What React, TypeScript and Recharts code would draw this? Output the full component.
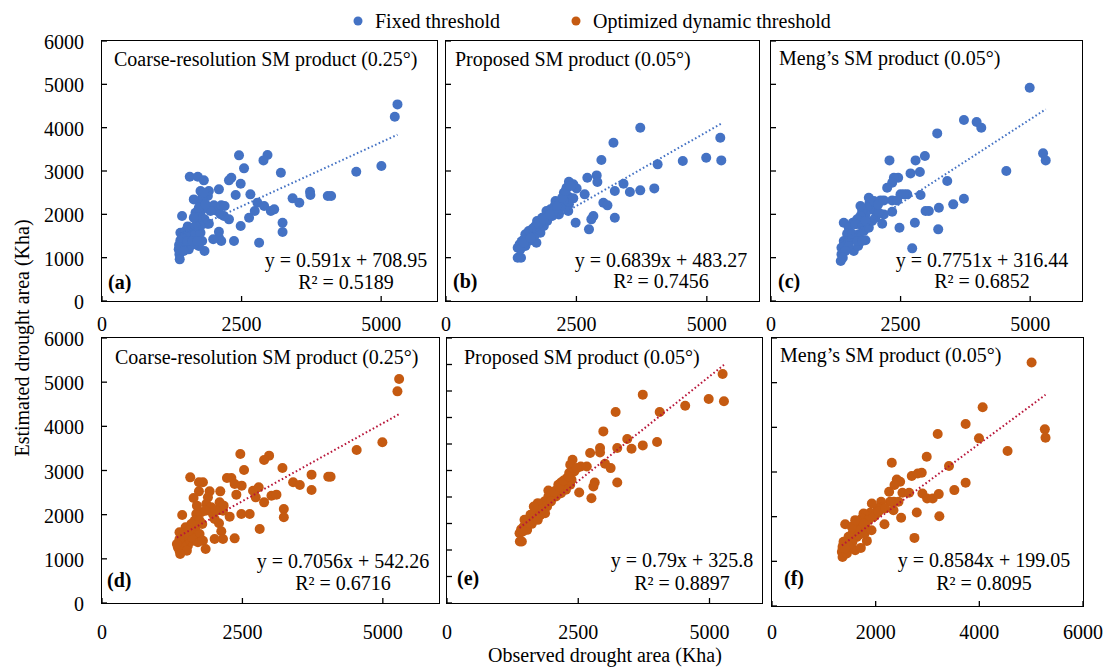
import { ScatterChart, Scatter, XAxis, YAxis } from 'recharts';

const FONT = '"Liberation Serif", "Times New Roman", serif';
const FIXED = '#4472C4';
const DYNAMIC = '#C55A11';
const DYN_TREND = '#B8163A';

// (a) coarse-resolution, fixed threshold
const aObs = [5292, 5244, 5004, 4554, 4044, 4104, 3726, 3732, 3414, 3534, 3204, 2964, 2892, 2544, 2454, 2484, 2316, 2274, 2394, 2658, 2784, 2904, 3024, 3084, 2736, 2634, 3234, 3234, 2814, 2484, 2364, 2274, 2184, 2094, 2004, 2064, 2136, 2196, 2124, 1944, 1914, 2094, 2094, 2136, 1992, 1914, 1764, 1896, 1794, 1644, 1572, 1716, 1824, 1764, 1794, 1674, 1764, 1836, 1884, 1704, 1434, 1404, 1494, 1536, 1614, 1584, 1674, 1764, 1794, 1836, 1734, 1644, 1554, 1464, 1404, 1380, 1374, 1386, 1392, 1464, 1494, 1434, 1524, 1614, 1704, 1764, 1674, 1644, 1734, 1854, 1824];
const aEst = [4537, 4253, 3114, 2984, 2422, 2422, 2522, 2445, 2369, 2269, 2961, 3368, 3245, 3061, 3361, 2707, 2845, 2784, 2445, 2461, 2269, 2192, 2076, 2115, 2076, 1923, 1807, 1592, 1346, 1730, 1384, 1884, 1961, 2576, 2207, 2076, 2207, 2192, 2000, 2076, 1784, 1600, 1461, 1384, 1423, 2538, 2538, 2422, 2384, 2345, 2868, 2868, 2784, 2230, 2115, 2038, 1984, 1884, 1784, 1846, 1961, 1576, 1615, 1722, 1676, 1500, 1553, 1576, 1384, 1153, 1269, 1307, 1192, 1346, 1400, 1292, 1192, 1077, 961, 1153, 1500, 1461, 1384, 1384, 1384, 1730, 1730, 1922, 2153, 2230, 2499];

// (b) proposed, fixed threshold
const bObs = [5258, 5277, 4988, 4539, 3724, 4057, 3993, 3724, 3525, 3403, 3236, 3210, 2979, 2889, 2902, 2709, 3017, 3095, 3236, 2825, 2786, 2741, 2485, 2658, 2504, 2440, 2356, 2311, 2260, 2356, 2440, 2356, 2260, 2343, 2196, 2099, 2080, 2003, 1926, 2163, 1939, 1843, 1810, 1746, 1714, 1650, 1618, 1810, 1733, 1554, 1502, 1457, 1412, 1374, 1374, 1438, 1521, 1586, 1650, 1714, 1778, 1875, 1939, 2035, 2067, 2131, 2228, 2292, 2388, 1521, 1586, 1682, 1778, 1875, 1990, 1425, 1489, 1618];
const bEst = [3768, 3245, 3307, 3230, 3999, 3153, 2599, 2553, 2515, 2707, 2538, 3653, 3253, 2899, 2745, 2845, 2269, 2207, 1923, 1961, 1884, 1653, 1807, 2461, 2599, 2692, 2753, 2615, 2499, 2399, 2369, 2230, 2307, 2076, 2153, 2307, 2192, 2115, 2076, 1999, 1961, 1923, 1807, 1846, 1730, 1653, 1576, 1576, 1346, 1500, 1423, 1384, 1307, 1230, 999, 999, 1269, 1384, 1461, 1538, 1653, 1730, 1846, 1961, 2076, 2192, 2384, 2538, 2653, 1538, 1615, 1692, 1784, 1884, 1999, 1192, 1346, 1461];

// (c) Meng's, fixed threshold
const cObs = [4991, 3722, 3967, 4057, 3207, 5249, 5300, 4540, 2969, 2789, 2286, 2692, 2872, 3400, 3722, 3516, 3239, 3046, 2982, 2885, 2628, 2499, 2454, 2370, 2338, 2241, 2338, 2338, 2776, 2479, 3226, 2724, 2145, 2177, 2112, 2016, 1951, 1900, 1855, 1823, 1758, 1726, 1662, 1578, 1404, 1500, 1629, 1758, 1823, 1597, 1681, 1468, 1404, 1359, 1359, 1346, 1404, 1488, 1565, 1629, 1694, 1790, 1887, 1951, 2016, 2080, 1823, 1726, 1887, 1984, 2067, 2177, 1500, 1436, 1385, 1565, 1662, 1758, 2434, 2563];
const cEst = [4922, 4176, 4130, 3999, 3868, 3407, 3245, 2999, 3345, 3245, 3245, 2945, 2976, 2768, 2361, 2230, 2153, 2076, 2076, 2445, 2461, 2461, 2845, 2845, 2730, 2615, 2322, 2061, 1807, 1692, 1653, 1215, 1784, 1999, 2322, 2192, 2115, 2269, 2153, 1999, 2076, 1961, 1884, 1807, 1807, 1692, 1769, 1730, 1400, 1153, 1269, 1553, 1384, 1230, 1077, 923, 1307, 1384, 1423, 1461, 1538, 1615, 1692, 1846, 1922, 2038, 1846, 2192, 2384, 2307, 2230, 2322, 1269, 1153, 999, 1553, 1384, 1384, 2322, 2461];

// (d) coarse-resolution, optimized dynamic threshold
const dObs = [5290, 5260, 4992, 4534, 4028, 4070, 3731, 3731, 3403, 3522, 3213, 2975, 2886, 2529, 2463, 2487, 2303, 2362, 2392, 2689, 2790, 2737, 2886, 3017, 3106, 3237, 3237, 2808, 2630, 2481, 2362, 2273, 2106, 2225, 2094, 2166, 2154, 2083, 2124, 2154, 2005, 1916, 1886, 1797, 1726, 1726, 1571, 1630, 1856, 1767, 1678, 1648, 1737, 1428, 1488, 1559, 1648, 1737, 1797, 1845, 1708, 1618, 1529, 1470, 1410, 1380, 1369, 1380, 1351, 1428, 1511, 1589, 1975, 2035, 2005, 1946, 1845, 1785, 1678, 1589, 1547, 1452, 1380, 1333, 1392, 1690];
const dEst = [5072, 4792, 3638, 3464, 2860, 2860, 2906, 2558, 2732, 2672, 3057, 3336, 3238, 3011, 3374, 2657, 2830, 2694, 2453, 2543, 2619, 2392, 2279, 2430, 2453, 2128, 1940, 1675, 2015, 2015, 1464, 1955, 2528, 2830, 2279, 2204, 2090, 1804, 1623, 1449, 1449, 2528, 2392, 2732, 2732, 2528, 2845, 2377, 2241, 2053, 2015, 1864, 1864, 1992, 1713, 1562, 1638, 1562, 1411, 1223, 1374, 1411, 1298, 1411, 1487, 1600, 1374, 1185, 1260, 1298, 1185, 1487, 2015, 2090, 1902, 2166, 2090, 1789, 1751, 1789, 1638, 1524, 1449, 1336, 1109, 2204];

// (e) proposed, optimized dynamic threshold
const eObs = [5250, 5275, 4985, 4537, 4051, 4001, 3729, 3729, 3515, 3433, 3243, 3212, 3243, 2978, 2915, 2915, 2726, 3010, 3117, 2814, 2789, 2751, 2518, 2663, 2549, 2391, 2347, 2423, 2328, 2284, 2372, 2347, 2284, 2265, 2171, 2120, 2171, 2095, 2076, 2013, 1931, 1931, 1855, 1906, 1824, 1868, 1760, 1729, 1678, 1666, 1590, 1552, 1508, 1464, 1413, 1382, 1388, 1426, 1527, 1615, 1697, 1779, 1792, 1634, 1571, 1476, 1729, 1445, 1653, 1981, 2044, 2139, 2221, 2316, 2474];
const eEst = [4322, 3805, 3849, 3723, 3604, 3037, 3931, 2974, 2911, 3093, 2923, 3604, 2274, 3238, 2923, 2841, 2829, 2627, 2545, 2274, 2199, 1978, 2085, 2577, 2577, 2703, 2608, 2482, 2451, 2356, 2325, 2230, 2243, 2136, 2274, 2230, 2073, 2136, 2010, 1997, 2123, 2010, 1915, 1821, 1821, 1695, 1821, 1884, 1770, 1695, 1663, 1581, 1518, 1443, 1392, 1317, 1159, 1159, 1380, 1493, 1581, 1663, 1758, 1600, 1506, 1569, 1569, 1348, 1821, 1915, 2104, 2199, 2312, 2388, 2545];

// (f) Meng's, optimized dynamic threshold
const fObs = [5008, 4064, 3736, 3197, 3993, 5264, 5277, 4545, 2985, 3415, 2311, 2696, 2812, 2889, 2408, 2472, 2363, 2260, 2517, 2645, 2902, 2992, 3101, 3217, 3518, 3736, 2350, 2440, 2279, 2343, 2793, 3229, 2491, 2748, 2170, 2106, 2131, 2042, 1926, 1990, 1894, 1830, 1766, 1733, 1669, 1618, 1553, 1412, 1477, 1380, 1361, 1348, 1361, 1444, 1605, 1714, 1830, 1785, 1701, 1637, 1553, 1477, 1412, 1798, 1862, 1958, 2054, 2183, 1920, 1669, 1540, 1766, 1605];
const fEst = [5451, 4449, 4075, 3851, 3753, 3955, 3768, 3469, 3342, 3133, 3208, 2909, 2968, 2983, 2834, 2781, 2707, 2557, 2535, 2535, 2520, 2408, 2408, 2505, 2595, 2759, 2333, 2333, 2333, 2146, 2094, 2011, 1974, 1525, 1832, 2333, 2206, 2183, 2295, 2034, 2086, 2011, 2071, 1959, 1884, 1772, 1623, 1832, 1548, 1436, 1323, 1211, 1099, 1174, 1249, 1301, 1458, 1623, 1697, 1548, 1436, 1338, 1286, 1787, 1922, 1996, 2109, 2183, 1697, 1585, 1772, 1847, 1922];

const titles = ['Coarse-resolution SM product (0.25°)', 'Proposed SM product (0.05°)', 'Meng’s SM product (0.05°)'];
const slopes = [0.591, 0.6839, 0.7751, 0.7056, 0.79, 0.8584];
const intercepts = [708.95, 483.27, 316.44, 542.26, 325.8, 199.05];
const equations = ['y = 0.591x + 708.95', 'y = 0.6839x + 483.27', 'y = 0.7751x + 316.44', 'y = 0.7056x + 542.26', 'y = 0.79x + 325.8', 'y = 0.8584x + 199.05'];
const r2 = ['R² = 0.5189', 'R² = 0.7456', 'R² = 0.6852', 'R² = 0.6716', 'R² = 0.8897', 'R² = 0.8095'];
const letters = ['(a)', '(b)', '(c)', '(d)', '(e)', '(f)'];
const ticks6000 = [0, 1000, 2000, 3000, 4000, 5000, 6000];
const ticks5000 = [0, 500, 1000, 1500, 2000, 2500, 3000, 3500, 4000, 4500, 5000];
const xTicksA = [0, 2500, 5000];
const xTicksF = [0, 2000, 4000, 6000];

const ML = 60;
const MT = 10;
const MR = 30;
const MB = 45;

type Rect = { x: number; y: number; w: number; h: number };

interface PanelProps {
  xs: number[];
  ys: number[];
  color: string;
  trend: string;
  slope: number;
  intercept: number;
  rect: Rect;
  yMax: number;
  yTicks: number[];
  xTicks: number[];
  showY: boolean;
  xLabelDy: number;
}

function Panel({ xs, ys, color, trend, slope, intercept, rect, yMax, yTicks, xTicks, showY, xLabelDy }: PanelProps) {
  const data = xs.map((x, i) => ({ x, y: ys[i] }));
  const x0 = Math.min(...xs);
  const x1 = Math.max(...xs);
  // linear trendline end points, from the fitted equation shown on the panel
  const fit = [
    { x: x0, y: slope * x0 + intercept },
    { x: x1, y: slope * x1 + intercept },
  ];
  const bottom = MT + rect.h;

  return (
    <div style={{ position: 'absolute', left: rect.x - ML, top: rect.y - MT }}>
      <ScatterChart width={rect.w + ML + MR} height={rect.h + MT + MB} margin={{ top: MT, right: MR, bottom: 0, left: 0 }}>
        <XAxis
          type="number"
          dataKey="x"
          domain={[0, 6000]}
          ticks={xTicks}
          interval={0}
          height={MB}
          axisLine={false}
          tickLine={false}
          tick={(t: any) => (
            <g>
              <line x1={t.x} x2={t.x} y1={bottom} y2={bottom - 5} stroke="#000" strokeWidth={1.3} />
              <text x={t.x} y={bottom + xLabelDy} textAnchor="middle" dominantBaseline="central" fontSize={20} fontFamily={FONT} fill="#000">
                {t.payload.value}
              </text>
            </g>
          )}
        />
        <YAxis
          type="number"
          dataKey="y"
          domain={[0, yMax]}
          ticks={yTicks}
          interval={0}
          width={ML}
          axisLine={false}
          tickLine={false}
          tick={(t: any) => (
            <g>
              <line x1={ML} x2={ML + 5} y1={t.y} y2={t.y} stroke="#000" strokeWidth={1.3} />
              {showY && (
                <text x={ML - 18} y={t.y + 1} textAnchor="end" dominantBaseline="central" fontSize={20} fontFamily={FONT} fill="#000">
                  {t.payload.value}
                </text>
              )}
            </g>
          )}
        />
        <Scatter
          data={data}
          fill={color}
          isAnimationActive={false}
          shape={(s: any) => <circle cx={s.cx} cy={s.cy} r={5} fill={color} />}
        />
        <Scatter
          data={fit}
          isAnimationActive={false}
          line={{ stroke: trend, strokeWidth: 2, strokeDasharray: '1.6 2.4' }}
          shape={() => <g />}
        />
      </ScatterChart>
      <div
        style={{
          position: 'absolute',
          left: ML - 0.75,
          top: MT - 0.75,
          width: rect.w + 1.5,
          height: rect.h + 1.5,
          border: '1.5px solid #000',
          boxSizing: 'border-box',
          pointerEvents: 'none',
        }}
      />
    </div>
  );
}

function Label({ x, y, text, anchor = 'start', bold = false }: { x: number; y: number; text: string; anchor?: string; bold?: boolean }) {
  const tx = anchor === 'middle' ? '-50%' : anchor === 'end' ? '-100%' : '0';
  return (
    <div
      style={{
        position: 'absolute',
        left: x,
        top: y,
        transform: `translate(${tx}, -50%)`,
        whiteSpace: 'pre',
        fontSize: 20,
        lineHeight: 1,
        fontWeight: bold ? 700 : 400,
        color: '#000',
      }}
    >
      {text}
    </div>
  );
}

const rects: Rect[] = [
  { x: 102, y: 41, w: 335, h: 260 },
  { x: 446, y: 41, w: 313, h: 260 },
  { x: 771, y: 41, w: 311, h: 260 },
  { x: 102, y: 338, w: 337, h: 265 },
  { x: 447, y: 338, w: 315, h: 265 },
  { x: 772, y: 338, w: 311, h: 268 },
];
const titlePos = [[114, 59], [455, 59], [779, 58], [115, 357], [464, 357], [780, 355]];
const eqCenter = [[346, 260, 282], [661, 260, 281], [982, 260, 281], [343, 561, 583], [682, 560, 583], [984, 560, 583]];
const letterPos = [[108, 282], [453, 281], [778, 281], [107, 580], [457, 578], [784, 578]];

export default function App() {
  const series = [
    { xs: aObs, ys: aEst },
    { xs: bObs, ys: bEst },
    { xs: cObs, ys: cEst },
    { xs: dObs, ys: dEst },
    { xs: eObs, ys: eEst },
    { xs: fObs, ys: fEst },
  ];

  return (
    <div
      style={{
        position: 'absolute',
        left: 0,
        top: 0,
        width: 1110,
        height: 668,
        background: '#fff',
        fontFamily: FONT,
        overflow: 'hidden',
      }}
    >
      {series.map((s, i) => (
        <Panel
          key={i}
          xs={s.xs}
          ys={s.ys}
          color={i < 3 ? FIXED : DYNAMIC}
          trend={i < 3 ? FIXED : DYN_TREND}
          slope={slopes[i]}
          intercept={intercepts[i]}
          rect={rects[i]}
          yMax={i === 4 ? 5000 : 6000}
          yTicks={i === 4 ? ticks5000 : ticks6000}
          xTicks={i === 5 ? xTicksF : xTicksA}
          showY={i === 0 || i === 3}
          xLabelDy={i < 3 ? 23 : i === 5 ? 26 : 29}
        />
      ))}

      {series.map((_, i) => (
        <div key={`t${i}`}>
          <Label x={titlePos[i][0]} y={titlePos[i][1]} text={titles[i % 3]} />
          <Label x={eqCenter[i][0]} y={eqCenter[i][1]} text={equations[i]} anchor="middle" />
          <Label x={eqCenter[i][0]} y={eqCenter[i][2]} text={r2[i]} anchor="middle" />
          <Label x={letterPos[i][0]} y={letterPos[i][1]} text={letters[i]} bold />
        </div>
      ))}

      {/* legend */}
      <svg style={{ position: 'absolute', left: 0, top: 0 }} width={1110} height={40}>
        <circle cx={358} cy={21} r={4.5} fill={FIXED} />
        <circle cx={576} cy={21} r={4.5} fill={DYNAMIC} />
      </svg>
      <Label x={375} y={21} text="Fixed threshold" />
      <Label x={593} y={21} text="Optimized dynamic threshold" />

      {/* axis titles */}
      <Label x={605} y={655} text="Observed drought area (Kha)" anchor="middle" />
      <div
        style={{
          position: 'absolute',
          left: 22,
          top: 338,
          transform: 'translate(-50%, -50%) rotate(-90deg)',
          whiteSpace: 'nowrap',
          fontSize: 20,
          lineHeight: 1,
        }}
      >
        Estimated drought area (Kha)
      </div>
    </div>
  );
}
